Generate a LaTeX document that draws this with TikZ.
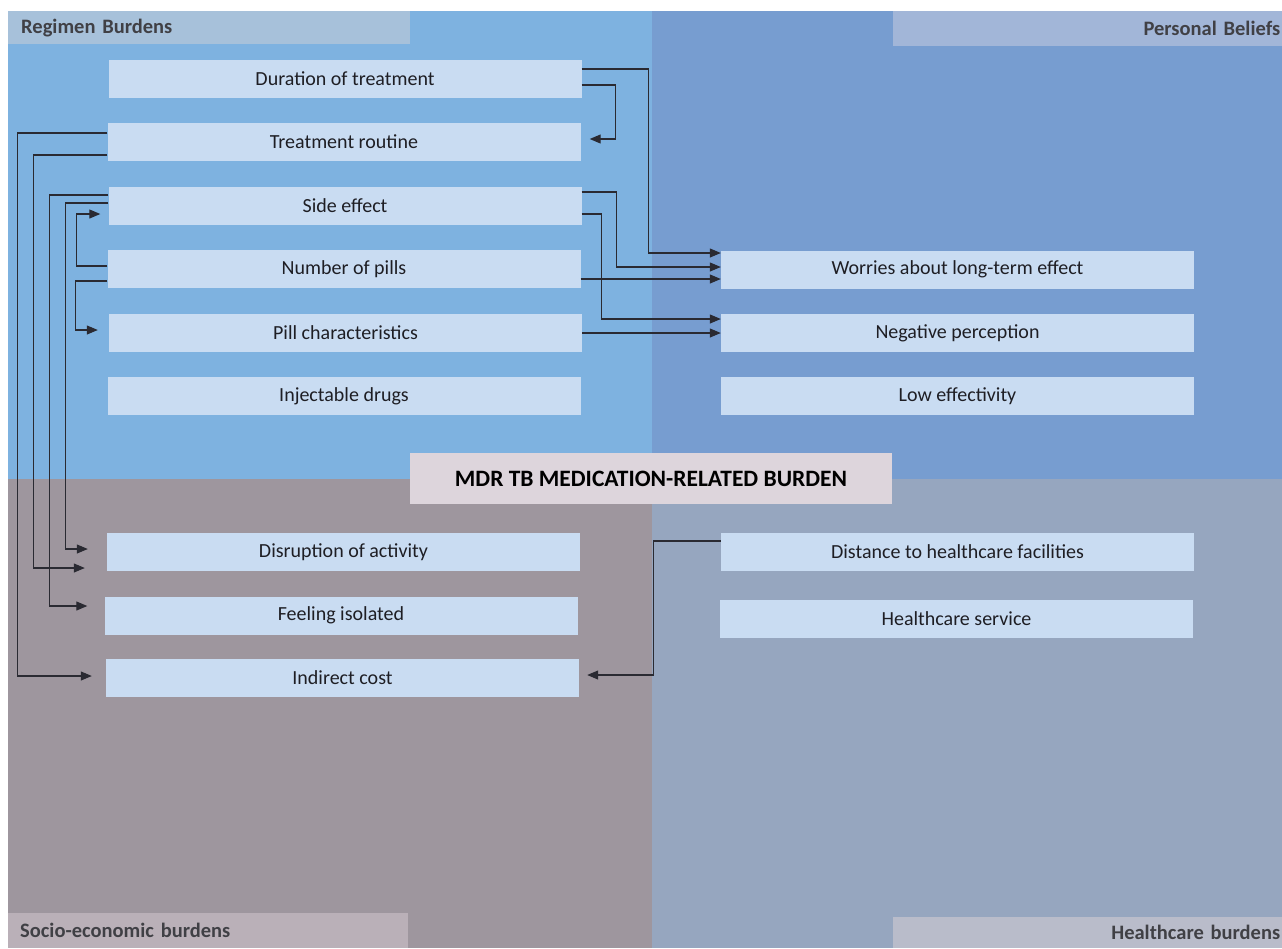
\documentclass[tikz,border=0pt]{standalone}
\usepackage{fontspec}
\setmainfont{Carlito}
\usetikzlibrary{arrows.meta,calc}

\definecolor{regimenbg}{HTML}{7EB2E0}
\definecolor{beliefbg}{HTML}{779DD0}
\definecolor{socialbg}{HTML}{9E969E}
\definecolor{carebg}{HTML}{96A6BF}
\definecolor{regimenhead}{HTML}{A7C1DA}
\definecolor{beliefhead}{HTML}{A2B6D8}
\definecolor{socialhead}{HTML}{BAB0B8}
\definecolor{carehead}{HTML}{B9BCCA}
\definecolor{itemfill}{HTML}{C9DCF2}
\definecolor{corefill}{HTML}{DDD5DC}
\definecolor{inktext}{HTML}{1E1E24}
\definecolor{wire}{HTML}{2A2A32}

\begin{document}
\begin{tikzpicture}[x=1pt,y=-1pt,
	itembox/.style={fill=itemfill, minimum width=473pt, minimum height=38pt, inner sep=0pt, text=inktext, font=\fontsize{20}{24}\selectfont},
	headbox/.style={anchor=north west, inner xsep=13pt, inner ysep=0pt, text=inktext!85, font=\bfseries\fontsize{20.5}{24}\selectfont},
	conn/.style={wire, line width=1.1pt, -{Triangle[length=11pt,width=9pt]}}]

	\useasboundingbox (0,0) rectangle (1282,948);

	% quadrants
	\fill[regimenbg] (8,11) rectangle (652,479);
	\fill[beliefbg] (652,11) rectangle (1282,479);
	\fill[socialbg] (8,479) rectangle (652,948);
	\fill[carebg] (652,479) rectangle (1282,948);

	% quadrant titles
	\node[headbox, fill=regimenhead, minimum height=33pt, text width=376pt, align=left] (reghead) at (8,11) {Regimen Burdens};
	\node[headbox, fill=beliefhead, minimum height=35pt, inner xsep=2pt, text width=385pt, align=right] (belhead) at (893,11) {Personal Beliefs};
	\node[headbox, fill=socialhead, minimum height=35pt, inner xsep=12pt, text width=376pt, align=left] (sochead) at (8,913) {Socio-economic burdens};
	\node[headbox, fill=carehead, minimum height=31pt, inner xsep=2pt, text width=385pt, align=right] (carhead) at (893,917) {Healthcare burdens};

	% items
	\foreach \nm/\xc/\yc/\txt in {dur/345/79/Duration of treatment, rout/344/142/Treatment routine, side/345/205.5/Side effect, pill/344/269/Number of pills, char/345.5/333/Pill characteristics, inj/344/396/Injectable drugs, disr/343.5/552/Disruption of activity, iso/341/615.5/Feeling isolated, cost/342.5/677.5/Indirect cost}
		\node[itembox] (\nm) at (\xc,\yc) {\txt};
	\foreach \nm/\xc/\yc/\txt in {worr/957.5/269.5/Worries about long-term effect, neg/957.5/333/Negative perception, low/957.5/396/Low effectivity, dist/957.5/552/Distance to healthcare facilities, serv/956.5/619/Healthcare service}
		\node[itembox] (\nm) at (\xc,\yc) {\txt};

	\node[fill=corefill, minimum width=482pt, minimum height=51pt, inner sep=0pt, text=black, font=\bfseries\fontsize{23.5}{28}\selectfont] (core) at (651,478.5) {MDR TB MEDICATION-RELATED BURDEN};

	% links to the right
	\draw[conn] ($(dur.east)+(0,-10)$) -| ($(worr.west)+(-72,-16.5)$) -- ($(worr.west)+(0,-16.5)$);
	\draw[conn] ($(dur.east)+(0,6)$) -| ($(rout.east)+(35,-3)$) -- ($(rout.east)+(9,-3)$);
	\draw[conn] ($(side.east)+(0,-13.5)$) -| ($(worr.west)+(-104,-2.5)$) -- ($(worr.west)+(0,-2.5)$);
	\draw[conn] ($(pill.east)+(0,10)$) -- ($(worr.west)+(0,9.5)$);
	\draw[conn] ($(side.east)+(0,8.5)$) -| ($(neg.west)+(-119,-14)$) -- ($(neg.west)+(0,-14)$);
	\draw[conn] (char.east) -- (neg.west);

	% links on the left
	\draw[conn] ($(rout.west)+(0,-9)$) -| ($(cost.west)+(-88,-1.5)$) -- ($(cost.west)+(-14,-1.5)$);
	\draw[conn] ($(rout.west)+(0,13)$) -| ($(disr.west)+(-73,16)$) -- ($(disr.west)+(-22,16)$);
	\draw[conn] ($(side.west)+(0,-10.5)$) -| ($(iso.west)+(-55,-9.5)$) -- ($(iso.west)+(-17,-9.5)$);
	\draw[conn] ($(side.west)+(0,-2.5)$) -| ($(disr.west)+(-41,-3)$) -- ($(disr.west)+(-19,-3)$);
	\draw[conn] ($(pill.west)+(0,-3)$) -| ($(side.west)+(-32,8.5)$) -- ($(side.west)+(-8,8.5)$);
	\draw[conn] ($(pill.west)+(0,12)$) -| ($(char.west)+(-33,-3)$) -- ($(char.west)+(-11,-3)$);

	% link at the bottom
	\draw[conn] ($(dist.west)+(0,-11)$) -| ($(cost.east)+(74,-2.5)$) -- ($(cost.east)+(8,-2.5)$);

\end{tikzpicture}
\end{document}
